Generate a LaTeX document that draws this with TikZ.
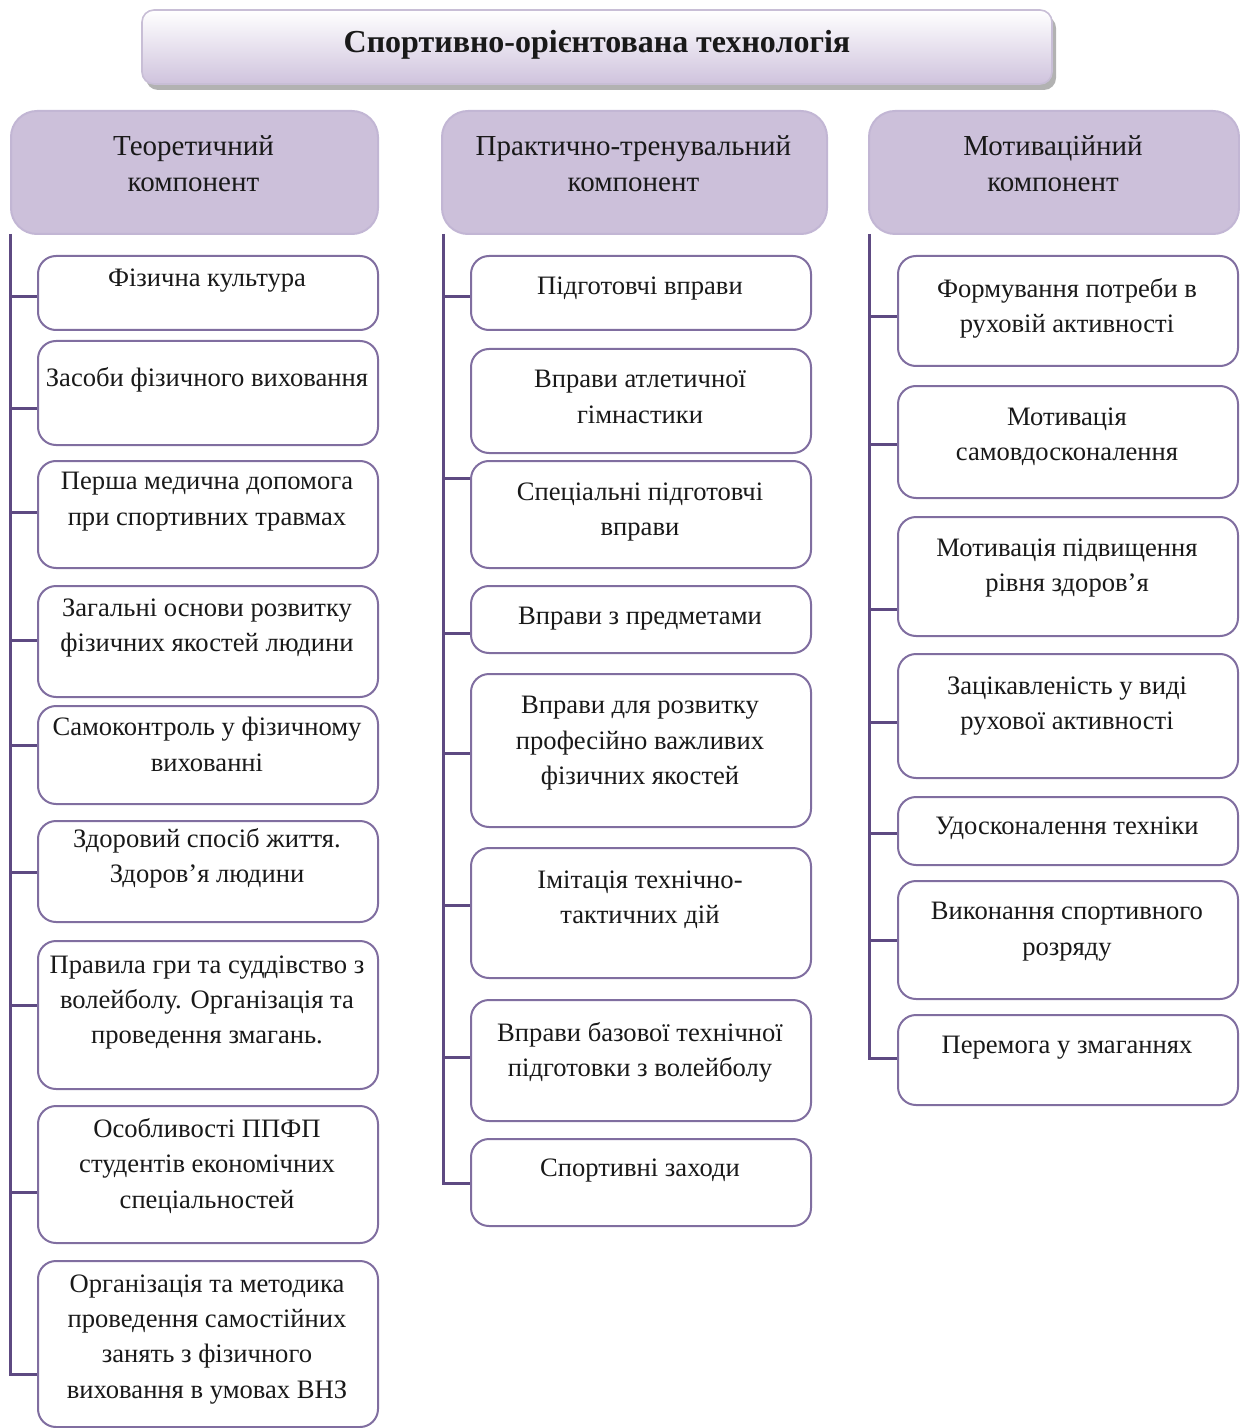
\documentclass[tikz,border=0pt]{standalone}
\usepackage{fontspec}
\setmainfont{Liberation Serif}
\definecolor{hdrfill}{RGB}{204,192,218}
\definecolor{hdrdraw}{RGB}{194,182,212}
\definecolor{boxdraw}{RGB}{128,110,160}
\definecolor{spinec}{RGB}{94,74,130}
\definecolor{titlebot}{RGB}{207,195,221}
\definecolor{titledraw}{RGB}{200,190,214}
\tikzset{
  bx/.style={draw=boxdraw, line width=1pt, rounded corners=9pt, fill=white, inner sep=0pt},
  hdr/.style={draw=hdrdraw, line width=1pt, rounded corners=13pt, fill=hdrfill, inner sep=0pt},
  txt/.style={align=center, inner sep=0pt, text=black!90, font=\fontsize{13.3}{17.7}\selectfont, execute at begin node=\strut},
  htxt/.style={align=center, inner sep=0pt, text=black!90, font=\fontsize{14.5}{18}\selectfont, execute at begin node=\strut},
  spine/.style={draw=spinec, line width=1.5pt},
}
% name, x1, y1, x2, y2, y of first text line centre, text  (single-line text)
\newcommand{\mybox}[7]{%
  \node[bx, anchor=north west, minimum width={(#4-#2)*0.5pt}, minimum height={(#5-#3)*0.5pt}] (#1) at (#2,#3) {};
  \node[txt, anchor=north] (#1t) at ({(#2+#4)/2},{#6-17}) {#7};
}
% same, for text of several lines
\newcommand{\myboxm}[7]{%
  \node[bx, anchor=north west, minimum width={(#4-#2)*0.5pt}, minimum height={(#5-#3)*0.5pt}] (#1) at (#2,#3) {};
  \node[txt, anchor=north] (#1t) at ({(#2+#4)/2},{#6-10}) {#7};
}
\newcommand{\myhdr}[7]{%
  \node[hdr, anchor=north west, minimum width={(#4-#2)*0.5pt}, minimum height={(#5-#3)*0.5pt}] (#1) at (#2,#3) {};
  \node[htxt, anchor=north] (#1t) at ({(#2+#4)/2},{#6-10}) {#7};
}
\begin{document}
\begin{tikzpicture}[x=0.5pt,y=-0.5pt]
\useasboundingbox (0,0) rectangle (1240,1428);
% title
\fill[black!30, rounded corners=6pt] (146,16) rectangle (1056,90);
\shade[top color=white, bottom color=titlebot, draw=titledraw, line width=0.8pt, rounded corners=6pt] (142,10) rectangle (1052,84);
\node[font=\fontsize{16}{19}\selectfont\bfseries, text=black!90] (title) at (597,45) {Спортивно-орієнтована технологія};
% headers
\myhdr{h1}{10}{110}{377}{233}{145}{Теоретичний\\компонент}
\myhdr{h2}{441}{110}{826}{233}{145}{Практично-тренувальний\\компонент}
\myhdr{h3}{868}{110}{1238}{233}{145}{Мотиваційний\\компонент}
% column 1
\mybox{b11}{37}{255}{377}{329}{278}{Фізична культура}
\mybox{b12}{37}{340}{377}{444}{378}{Засоби фізичного виховання}
\myboxm{b13}{37}{460}{377}{567}{482}{Перша медична допомога\\при спортивних травмах}
\myboxm{b14}{37}{585}{377}{696}{608}{Загальні основи розвитку\\фізичних якостей людини}
\myboxm{b15}{37}{705}{377}{803}{727}{Самоконтроль у фізичному\\вихованні}
\myboxm{b16}{37}{820}{377}{921}{838}{Здоровий спосіб життя.\\Здоров’я людини}
\myboxm{b17}{37}{940}{377}{1088}{965}{Правила гри та суддівство з\\волейболу. Організація та\\проведення змагань.}
\myboxm{b18}{37}{1105}{377}{1242}{1128}{Особливості ППФП\\студентів економічних\\спеціальностей}
\myboxm{b19}{37}{1260}{377}{1426}{1284}{Організація та методика\\проведення самостійних\\занять з фізичного\\виховання в умовах ВНЗ}
% column 2
\mybox{b21}{470}{255}{810}{329}{286}{Підготовчі вправи}
\myboxm{b22}{470}{348}{810}{452}{380}{Вправи атлетичної\\гімнастики}
\myboxm{b23}{470}{460}{810}{567}{492}{Спеціальні підготовчі\\вправи}
\mybox{b24}{470}{585}{810}{652}{616}{Вправи з предметами}
\myboxm{b25}{470}{673}{810}{826}{706}{Вправи для розвитку\\професійно важливих\\фізичних якостей}
\myboxm{b26}{470}{847}{810}{977}{880}{Імітація технічно-\\тактичних дій}
\myboxm{b27}{470}{999}{810}{1120}{1032}{Вправи базової технічної\\підготовки з волейболу}
\mybox{b28}{470}{1138}{810}{1225}{1168}{Спортивні заходи}
% column 3
\myboxm{b31}{897}{255}{1237}{365}{288}{Формування потреби в\\руховій активності}
\myboxm{b32}{897}{385}{1237}{497}{417}{Мотивація\\самовдосконалення}
\myboxm{b33}{897}{516}{1237}{635}{548}{Мотивація підвищення\\рівня здоров’я}
\myboxm{b34}{897}{653}{1237}{777}{686}{Зацікавленість у виді\\рухової активності}
\mybox{b35}{897}{796}{1237}{864}{826}{Удосконалення техніки}
\myboxm{b36}{897}{880}{1237}{998}{912}{Виконання спортивного\\розряду}
\mybox{b37}{897}{1014}{1237}{1104}{1045}{Перемога у змаганнях}
% spines
\coordinate (s1) at (10,234);
\coordinate (s2) at (443,234);
\coordinate (s3) at (869,234);
\draw[spine] (s1) |- (b19.west |- 0,1374);
\foreach \n/\y in {b11/297,b12/408,b13/512,b14/640,b15/745,b16/872,b17/1005,b18/1192}
  \draw[spine] (s1 |- 0,\y) -- (\n.west |- 0,\y);
\draw[spine] (s2) |- (b28.west |- 0,1183);
\foreach \n/\y in {b21/297,b23/478,b24/633,b25/753,b26/905,b27/1057}
  \draw[spine] (s2 |- 0,\y) -- (\n.west |- 0,\y);
\draw[spine] (s3) |- (b37.west |- 0,1058);
\foreach \n/\y in {b31/317,b32/444,b33/609,b34/722,b35/833,b36/940}
  \draw[spine] (s3 |- 0,\y) -- (\n.west |- 0,\y);
\end{tikzpicture}
\end{document}
